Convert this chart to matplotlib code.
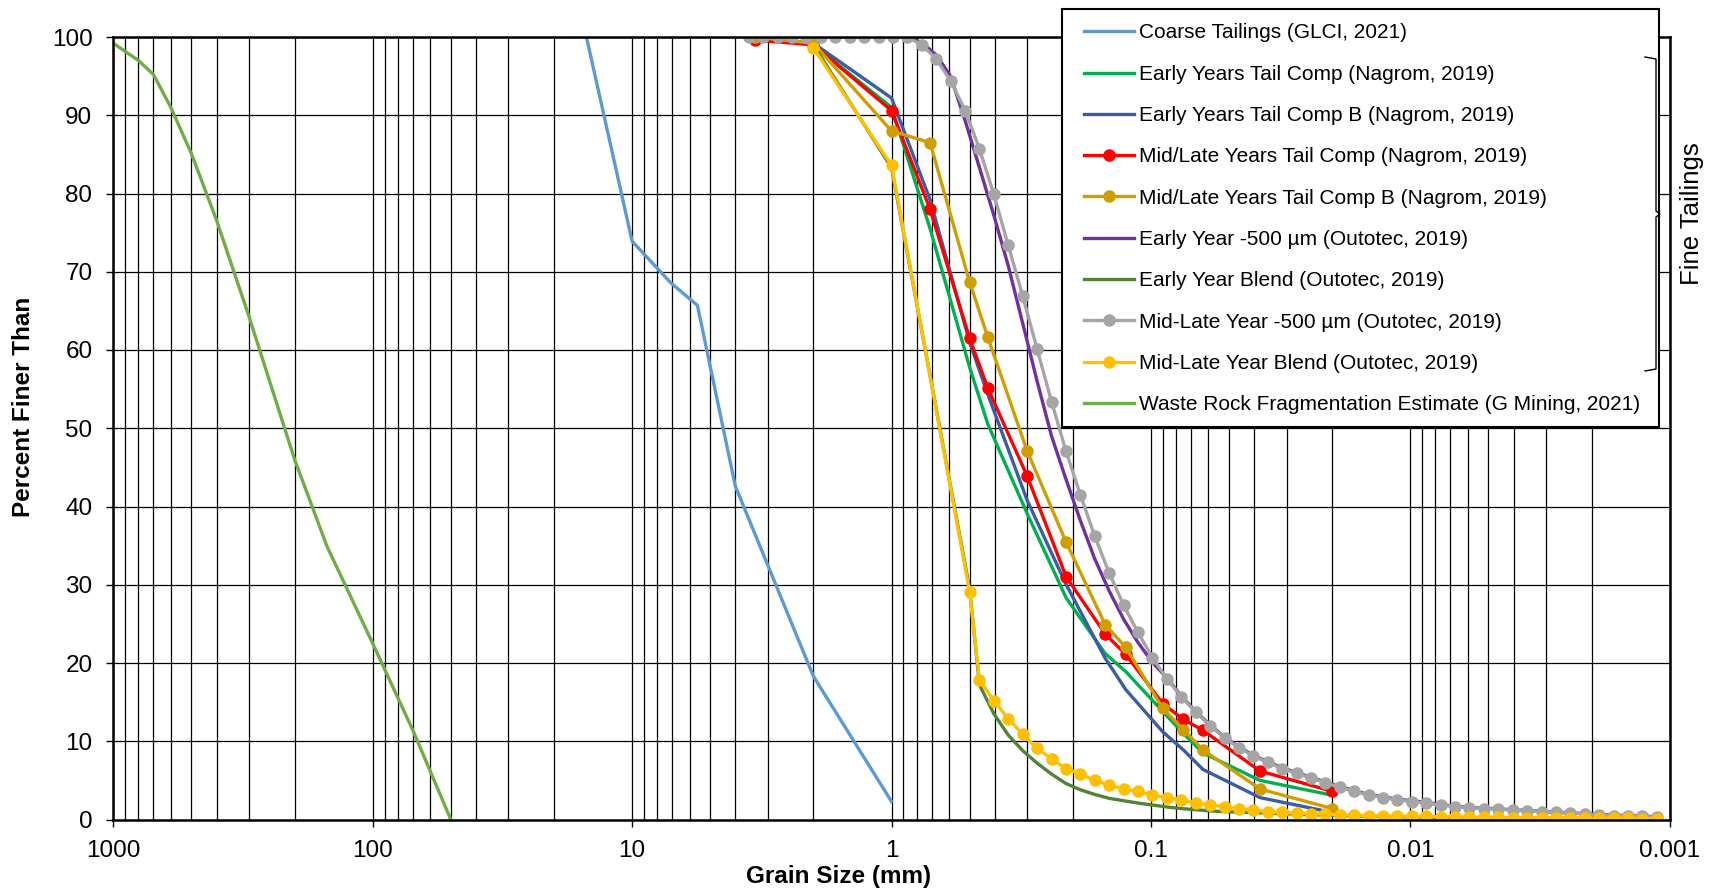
import matplotlib
matplotlib.use("Agg")
import matplotlib.pyplot as plt
from matplotlib.lines import Line2D
from matplotlib.patches import Rectangle
from matplotlib.ticker import LogLocator, NullFormatter

plt.rcParams['font.family'] = ['Liberation Sans', 'DejaVu Sans']

W, H = 1711, 890

# ---- data ----
# Nagrom sieve sizes, mm
sieve_mm = [3.35, 2.0, 1.0, 0.71, 0.5, 0.425, 0.3, 0.212, 0.15, 0.125, 0.09, 0.075, 0.063, 0.038, 0.02]
early_comp = [100, 99.0, 91.0, 75.5, 57.8, 50.5, 39.1, 28.3, 21.2, 18.9, 13.8, 11.0, 8.5, 5.0, 3.1]
early_comp_b = [100, 99.2, 92.2, 79.2, 61.0, 54.3, 40.8, 30.0, 20.6, 16.6, 11.2, 8.9, 6.4, 2.8, 0.9]
midlate_comp = [99.6, 99.0, 90.6, 78.0, 61.5, 55.1, 43.9, 31.0, 23.7, 21.1, 14.8, 12.8, 11.4, 6.2, 3.6]
midlate_comp_b = [100, 99.2, 88.0, 86.5, 68.7, 61.6, 47.1, 35.4, 24.9, 22.0, 14.2, 11.5, 8.9, 3.9, 1.4]

# Outotec laser sizes, mm
laser_mm = [3.548, 3.122, 2.747, 2.417, 2.127, 1.871, 1.647, 1.449, 1.275, 1.122,
            0.987, 0.868, 0.764, 0.672, 0.592, 0.520, 0.458, 0.403, 0.355, 0.312,
            0.2745, 0.2416, 0.2126, 0.1870, 0.1646, 0.1448, 0.1274, 0.1121, 0.0987, 0.0868,
            0.0764, 0.0672, 0.0592, 0.0520, 0.0458, 0.0403, 0.0355, 0.0312, 0.02745, 0.02416,
            0.02126, 0.01870, 0.01646, 0.01448, 0.01274, 0.01121, 0.00987, 0.00868, 0.00764, 0.00672,
            0.00592, 0.00520, 0.00458, 0.00403, 0.00355, 0.00312, 0.002745, 0.002416, 0.002126, 0.001870,
            0.001646, 0.001448, 0.001274, 0.001121]
early_500 = [100, 100, 100, 100, 100, 100, 100, 100, 100, 100,
             100, 100, 99.3, 97.7, 95.0, 89.3, 83.3, 77.2, 70.8, 63.4,
             56.0, 49.0, 43.5, 38.2, 33.3, 29.2, 25.6, 22.6, 20.1, 18.1,
             15.8, 13.8, 12.1, 10.5, 9.3, 8.2, 7.4, 6.6, 6.0, 5.4,
             4.8, 4.2, 3.7, 3.2, 2.9, 2.6, 2.4, 2.2, 1.9, 1.7,
             1.55, 1.45, 1.35, 1.25, 1.15, 1.05, 0.95, 0.85, 0.75, 0.65,
             0.55, 0.5, 0.45, 0.35]
midlate_500 = [100, 100, 100, 100, 100, 100, 100, 100, 100, 100,
               100, 100, 99.0, 97.2, 94.4, 90.6, 85.7, 79.9, 73.4, 66.9,
               60.1, 53.4, 47.1, 41.5, 36.2, 31.5, 27.4, 23.9, 20.7, 18.0,
               15.7, 13.7, 12.0, 10.4, 9.2, 8.1, 7.3, 6.5, 5.9, 5.3,
               4.7, 4.1, 3.6, 3.1, 2.8, 2.5, 2.3, 2.1, 1.85, 1.65,
               1.5, 1.4, 1.3, 1.2, 1.1, 1.0, 0.9, 0.8, 0.7, 0.6,
               0.5, 0.45, 0.4, 0.3]

# blends: three sieve points, then the laser sizes from 0.458 mm down
blend_sieve_mm = [2.0, 1.0, 0.5]
blend_mm = blend_sieve_mm + laser_mm[16:]
early_blend = [99.0, 83.3, 29.5,
               17.2, 13.5, 10.8, 8.8, 7.2, 5.8, 4.6, 3.8, 3.2, 2.7, 2.4, 2.1,
               1.85, 1.6, 1.4, 1.25, 1.1, 1.0, 0.95, 0.9, 0.82, 0.75, 0.68, 0.62,
               0.56, 0.5, 0.45, 0.42, 0.38, 0.35, 0.32, 0.3, 0.27, 0.25, 0.23, 0.21,
               0.19, 0.17, 0.16, 0.15, 0.14, 0.13, 0.12, 0.11, 0.1, 0.1, 0.09, 0.08]
midlate_blend = [98.6, 83.6, 29.1,
                 17.8, 15.2, 12.9, 10.9, 9.1, 7.75, 6.5, 5.8, 5.0, 4.4, 3.9, 3.6,
                 3.1, 2.8, 2.5, 2.1, 1.9, 1.6, 1.4, 1.2, 1.0, 0.9, 0.8, 0.75,
                 0.7, 0.6, 0.55, 0.5, 0.45, 0.45, 0.4, 0.4, 0.35, 0.35, 0.3, 0.3,
                 0.3, 0.25, 0.25, 0.25, 0.2, 0.2, 0.2, 0.2, 0.15, 0.15, 0.1, 0.1]

coarse_mm = [15.0, 10.0, 7.1, 5.6, 4.0, 2.0, 1.0]
coarse_pct = [100, 73.9, 68.6, 65.7, 42.6, 18.3, 2.3]

waste_mm = [1000, 800, 700, 600, 500, 400, 300, 200, 150, 100, 70, 50]
waste_pct = [99.2, 97.0, 95.2, 91.0, 85.1, 76.6, 64.3, 46.0, 34.9, 22.5, 11.4, 0]

x_ticks = [1000, 100, 10, 1, 0.1, 0.01, 0.001]
x_tick_labels = ['1000', '100', '10', '1', '0.1', '0.01', '0.001']

# ---- figure ----
fig = plt.figure(figsize=(W / 100, H / 100), dpi=100)
x0, x1, y0, y1 = 113.3, 1669.7, 37.0, 819.5
ax = fig.add_axes([x0 / W, 1 - y1 / H, (x1 - x0) / W, (y1 - y0) / H])

lw = 2.4
ms = 8
ax.plot(coarse_mm, coarse_pct, color='#5B9BD5', lw=lw, label='Coarse Tailings (GLCI, 2021)')
ax.plot(sieve_mm, early_comp, color='#00B050', lw=lw, label='Early Years Tail Comp (Nagrom, 2019)')
ax.plot(sieve_mm, early_comp_b, color='#3A5DA6', lw=lw, label='Early Years Tail Comp B (Nagrom, 2019)')
ax.plot(sieve_mm, midlate_comp, color='#FF0000', lw=lw, marker='o', ms=ms,
        label='Mid/Late Years Tail Comp (Nagrom, 2019)')
ax.plot(sieve_mm, midlate_comp_b, color='#D09E00', lw=lw, marker='o', ms=ms,
        label='Mid/Late Years Tail Comp B (Nagrom, 2019)')
ax.plot(laser_mm, early_500, color='#7030A0', lw=lw, label='Early Year -500 µm (Outotec, 2019)')
ax.plot(blend_mm, early_blend, color='#548235', lw=lw, label='Early Year Blend (Outotec, 2019)')
ax.plot(laser_mm, midlate_500, color='#A5A5A5', lw=lw, marker='o', ms=ms,
        label='Mid-Late Year -500 µm (Outotec, 2019)')
ax.plot(blend_mm, midlate_blend, color='#FFC000', lw=lw, marker='o', ms=ms,
        label='Mid-Late Year Blend (Outotec, 2019)')
ax.plot(waste_mm, waste_pct, color='#70AD47', lw=lw,
        label='Waste Rock Fragmentation Estimate (G Mining, 2021)')

ax.set_xscale('log')
ax.set_xlim(1000, 0.001)
ax.set_ylim(0, 100)
ax.set_xticks(x_ticks, labels=x_tick_labels)
ax.xaxis.set_minor_locator(LogLocator(base=10, subs=range(2, 10), numticks=20))
ax.xaxis.set_minor_formatter(NullFormatter())
ax.set_yticks(range(0, 101, 10))

ax.grid(which='major', axis='both', color='black', lw=0.9)
ax.grid(which='minor', axis='x', color='black', lw=0.9)
ax.set_axisbelow(True)
ax.tick_params(axis='both', which='major', labelsize=17.5, length=5, width=1, pad=10)
ax.tick_params(axis='x', which='minor', length=0)
for s in ax.spines.values():
    s.set_linewidth(1.8)
    s.set_color('black')

fig.text(839 / W, 1 - 876 / H, 'Grain Size (mm)', ha='center', va='center',
         fontsize=17.5, fontweight='bold')
fig.text(24 / W, 1 - 407 / H, 'Percent Finer Than', ha='center', va='center',
         rotation=90, fontsize=17.5, fontweight='bold')

# legend box drawn separately so the padding can match the original
fig.add_artist(Rectangle((1062 / W, 1 - 426.7 / H), 596.6 / W, 418 / H,
                         transform=fig.transFigure, facecolor='white',
                         edgecolor='black', lw=1.5, zorder=4))
handles, labels = ax.get_legend_handles_labels()
leg = fig.legend(handles, labels, loc='upper left',
                 bbox_to_anchor=(1083.6 / W, 1 - 23.5 / H),
                 fontsize=15, frameon=False, handlelength=2.4,
                 handletextpad=0.27, labelspacing=1.07, borderpad=0,
                 borderaxespad=0)
leg.set_zorder(5)

# bracket grouping the fine tailings entries
bx = [1645, 1656, 1656, 1660, 1656, 1656, 1645]
by = [57, 59, 211, 214, 217, 369, 371]
fig.add_artist(Line2D([v / W for v in bx], [1 - v / H for v in by],
                      transform=fig.transFigure, color='black', lw=1.0, zorder=6))
fig.text(1692 / W, 1 - 214 / H, 'Fine Tailings', ha='center', va='center',
         rotation=90, fontsize=18.5)

fig.savefig('out.png', dpi=100)
